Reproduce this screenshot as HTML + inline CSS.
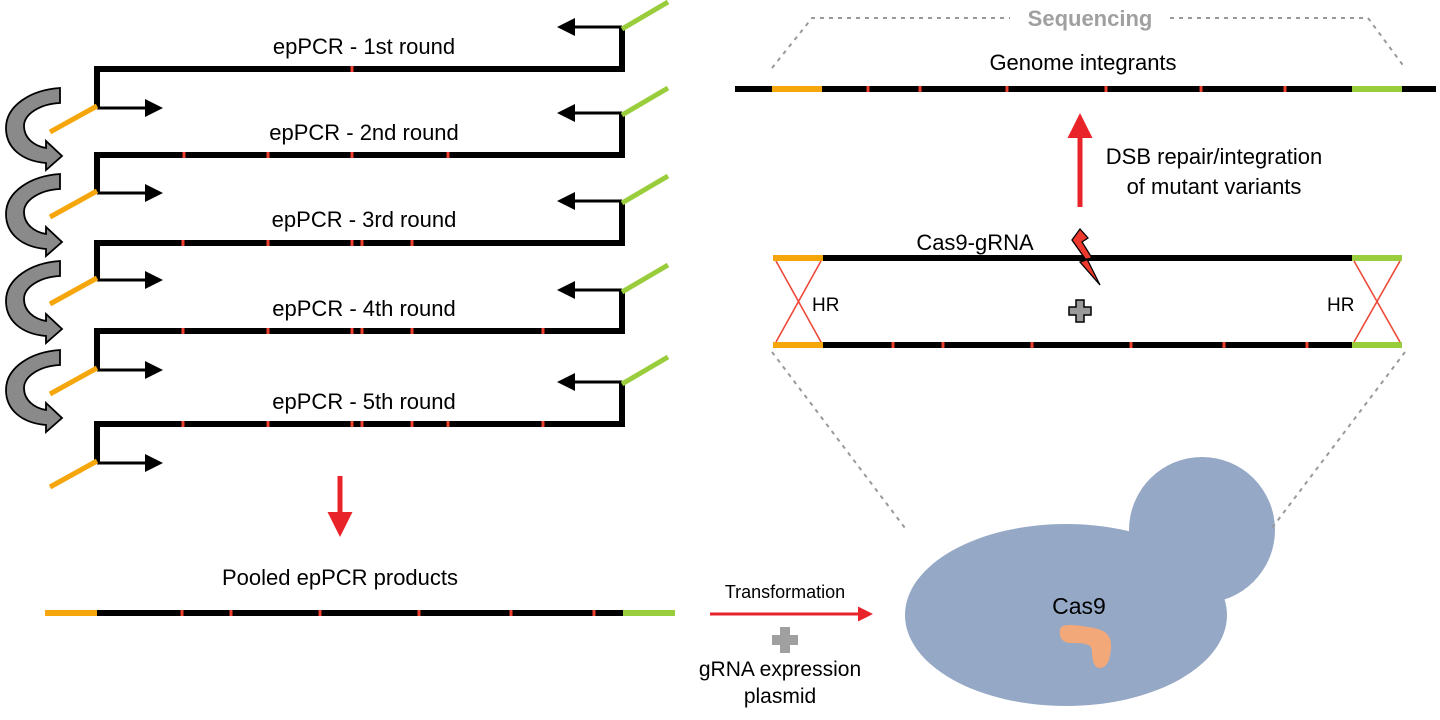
<!DOCTYPE html>
<html><head><meta charset="utf-8"><style>
html,body{margin:0;padding:0;background:#fff;}
svg{display:block;font-family:"Liberation Sans",Arial,sans-serif;}
</style></head><body>
<svg width="1440" height="720" viewBox="0 0 1440 720" xmlns="http://www.w3.org/2000/svg">
<defs>
<marker id="ah" markerWidth="6" markerHeight="6" refX="5" refY="3" orient="auto" markerUnits="strokeWidth"><path d="M0,0 L6,3 L0,6 z" fill="#000"/></marker>
<marker id="rh" markerWidth="5" markerHeight="5" refX="4" refY="2.5" orient="auto" markerUnits="strokeWidth"><path d="M0,0 L5,2.5 L0,5 z" fill="#e8232a"/></marker>
<path id="curve" d="M60,88 L60,103 C40,104 24,114 24,126 C24,138 34,146 46,148 L46,141 L62,156 L46,170 L46,163 C22,161 6,148 6,128 C6,106 30,90 60,88 Z" fill="#8a8a8a" stroke="#000" stroke-width="1.8"/>
</defs>

<g font-size="22" text-anchor="middle" fill="#000">
<text x="364" y="54">epPCR - 1st round</text>
<text x="364" y="140">epPCR - 2nd round</text>
<text x="364" y="227">epPCR - 3rd round</text>
<text x="364" y="316">epPCR - 4th round</text>
<text x="364" y="409">epPCR - 5th round</text>
</g>

<g fill="none">
<path d="M622,27 L622,69 L97,69 L97,108" stroke="#000" stroke-width="6"/>
<line x1="622" y1="27" x2="560" y2="27" stroke="#000" stroke-width="3" marker-end="url(#ah)"/>
<line x1="97" y1="108" x2="160" y2="108" stroke="#000" stroke-width="3" marker-end="url(#ah)"/>
<line x1="622" y1="29" x2="668" y2="2" stroke="#9acd3c" stroke-width="5"/>
<line x1="97" y1="106" x2="50" y2="132" stroke="#f5a60a" stroke-width="5"/>

<path d="M622,113 L622,155 L97,155 L97,193" stroke="#000" stroke-width="6"/>
<line x1="622" y1="113" x2="560" y2="113" stroke="#000" stroke-width="3" marker-end="url(#ah)"/>
<line x1="97" y1="193" x2="160" y2="193" stroke="#000" stroke-width="3" marker-end="url(#ah)"/>
<line x1="622" y1="115" x2="668" y2="88" stroke="#9acd3c" stroke-width="5"/>
<line x1="97" y1="191" x2="50" y2="217" stroke="#f5a60a" stroke-width="5"/>

<path d="M622,201 L622,243 L97,243 L97,280" stroke="#000" stroke-width="6"/>
<line x1="622" y1="201" x2="560" y2="201" stroke="#000" stroke-width="3" marker-end="url(#ah)"/>
<line x1="97" y1="280" x2="160" y2="280" stroke="#000" stroke-width="3" marker-end="url(#ah)"/>
<line x1="622" y1="203" x2="668" y2="176" stroke="#9acd3c" stroke-width="5"/>
<line x1="97" y1="278" x2="50" y2="304" stroke="#f5a60a" stroke-width="5"/>

<path d="M622,290 L622,331 L97,331 L97,370" stroke="#000" stroke-width="6"/>
<line x1="622" y1="290" x2="560" y2="290" stroke="#000" stroke-width="3" marker-end="url(#ah)"/>
<line x1="97" y1="370" x2="160" y2="370" stroke="#000" stroke-width="3" marker-end="url(#ah)"/>
<line x1="622" y1="292" x2="668" y2="265" stroke="#9acd3c" stroke-width="5"/>
<line x1="97" y1="368" x2="50" y2="394" stroke="#f5a60a" stroke-width="5"/>

<path d="M622,382 L622,424 L97,424 L97,463" stroke="#000" stroke-width="6"/>
<line x1="622" y1="382" x2="560" y2="382" stroke="#000" stroke-width="3" marker-end="url(#ah)"/>
<line x1="97" y1="463" x2="160" y2="463" stroke="#000" stroke-width="3" marker-end="url(#ah)"/>
<line x1="622" y1="384" x2="668" y2="357" stroke="#9acd3c" stroke-width="5"/>
<line x1="97" y1="461" x2="50" y2="487" stroke="#f5a60a" stroke-width="5"/>
</g>

<g stroke="#f04030" stroke-width="3">
<line x1="352" y1="66" x2="352" y2="72"/>
<line x1="184" y1="152" x2="184" y2="158"/><line x1="268" y1="152" x2="268" y2="158"/><line x1="352" y1="152" x2="352" y2="158"/><line x1="448" y1="152" x2="448" y2="158"/>
<line x1="183" y1="240" x2="183" y2="246"/><line x1="268" y1="240" x2="268" y2="246"/><line x1="352" y1="240" x2="352" y2="246"/><line x1="362" y1="240" x2="362" y2="246"/><line x1="412" y1="240" x2="412" y2="246"/>
<line x1="183" y1="328" x2="183" y2="334"/><line x1="268" y1="328" x2="268" y2="334"/><line x1="352" y1="328" x2="352" y2="334"/><line x1="362" y1="328" x2="362" y2="334"/><line x1="412" y1="328" x2="412" y2="334"/><line x1="543" y1="328" x2="543" y2="334"/>
<line x1="183" y1="421" x2="183" y2="427"/><line x1="268" y1="421" x2="268" y2="427"/><line x1="352" y1="421" x2="352" y2="427"/><line x1="362" y1="421" x2="362" y2="427"/><line x1="412" y1="421" x2="412" y2="427"/><line x1="448" y1="421" x2="448" y2="427"/><line x1="543" y1="421" x2="543" y2="427"/>
</g>

<use href="#curve"/>
<use href="#curve" transform="translate(0,86)"/>
<use href="#curve" transform="translate(0,173)"/>
<use href="#curve" transform="translate(0,262)"/>

<line x1="340" y1="476" x2="340" y2="532" stroke="#e8232a" stroke-width="5" marker-end="url(#rh)"/>
<text x="340" y="585" font-size="22" text-anchor="middle">Pooled epPCR products</text>
<line x1="45" y1="613" x2="97" y2="613" stroke="#f5a60a" stroke-width="6"/>
<line x1="97" y1="613" x2="623" y2="613" stroke="#000" stroke-width="6"/>
<line x1="623" y1="613" x2="675" y2="613" stroke="#9acd3c" stroke-width="6"/>
<g stroke="#f04030" stroke-width="3">
<line x1="182" y1="610" x2="182" y2="616"/><line x1="231" y1="610" x2="231" y2="616"/><line x1="320" y1="610" x2="320" y2="616"/><line x1="419" y1="610" x2="419" y2="616"/><line x1="511" y1="610" x2="511" y2="616"/><line x1="594" y1="610" x2="594" y2="616"/>
</g>

<text x="785" y="598" font-size="18" text-anchor="middle">Transformation</text>
<line x1="710" y1="614" x2="870" y2="614" stroke="#e8232a" stroke-width="3" marker-end="url(#rh)"/>
<path d="M780,627 h10 v8 h8 v10 h-8 v8 h-10 v-8 h-8 v-10 h8 z" fill="#a0a0a0"/>
<text x="780" y="676" font-size="21" text-anchor="middle">gRNA expression</text>
<text x="780" y="703" font-size="21" text-anchor="middle">plasmid</text>

<circle cx="1202" cy="530" r="73" fill="#95a8c6"/>
<ellipse cx="1066" cy="615" rx="161" ry="91" fill="#95a8c6"/>
<text x="1079" y="614" font-size="23" text-anchor="middle">Cas9</text>
<path d="M1060,630 C1060,624 1070,624 1088,627 C1104,629 1112,634 1111,648 C1110,662 1106,668 1100,668 C1094,668 1092,660 1092,652 C1092,645 1088,643 1072,643 C1062,643 1059,638 1060,630 Z" fill="#f2a878"/>

<g stroke="#999" stroke-width="2" stroke-dasharray="4,5" fill="none">
<line x1="772" y1="352" x2="905" y2="528"/>
<line x1="1405" y1="352" x2="1272" y2="528"/>
<path d="M772,68 L812,18 L1010,18"/>
<path d="M1170,18 L1368,18 L1405,68"/>
</g>
<text x="1090" y="26" font-size="22" font-weight="bold" fill="#a0a0a0" text-anchor="middle">Sequencing</text>

<text x="1083" y="70" font-size="22" text-anchor="middle">Genome integrants</text>
<line x1="735" y1="89" x2="772" y2="89" stroke="#000" stroke-width="6"/>
<line x1="772" y1="89" x2="822" y2="89" stroke="#f5a60a" stroke-width="6"/>
<line x1="822" y1="89" x2="1352" y2="89" stroke="#000" stroke-width="6"/>
<line x1="1352" y1="89" x2="1402" y2="89" stroke="#9acd3c" stroke-width="6"/>
<line x1="1402" y1="89" x2="1436" y2="89" stroke="#000" stroke-width="6"/>
<g stroke="#f04030" stroke-width="3">
<line x1="868" y1="86" x2="868" y2="92"/><line x1="920" y1="86" x2="920" y2="92"/><line x1="1007" y1="86" x2="1007" y2="92"/><line x1="1106" y1="86" x2="1106" y2="92"/><line x1="1201" y1="86" x2="1201" y2="92"/><line x1="1285" y1="86" x2="1285" y2="92"/>
</g>

<line x1="1080" y1="207" x2="1080" y2="118" stroke="#e8232a" stroke-width="5" marker-end="url(#rh)"/>
<text x="1214" y="164" font-size="22" text-anchor="middle">DSB repair/integration</text>
<text x="1214" y="194" font-size="22" text-anchor="middle">of mutant variants</text>

<line x1="773" y1="258" x2="823" y2="258" stroke="#f5a60a" stroke-width="6"/>
<line x1="823" y1="258" x2="1352" y2="258" stroke="#000" stroke-width="6"/>
<line x1="1352" y1="258" x2="1402" y2="258" stroke="#9acd3c" stroke-width="6"/>
<line x1="773" y1="345" x2="823" y2="345" stroke="#f5a60a" stroke-width="6"/>
<line x1="823" y1="345" x2="1352" y2="345" stroke="#000" stroke-width="6"/>
<line x1="1352" y1="345" x2="1402" y2="345" stroke="#9acd3c" stroke-width="6"/>
<g stroke="#f04030" stroke-width="3">
<line x1="893" y1="342" x2="893" y2="348"/><line x1="943" y1="342" x2="943" y2="348"/><line x1="1032" y1="342" x2="1032" y2="348"/><line x1="1131" y1="342" x2="1131" y2="348"/><line x1="1224" y1="342" x2="1224" y2="348"/><line x1="1307" y1="342" x2="1307" y2="348"/>
</g>
<g stroke="#ee4a3a" stroke-width="1.6">
<line x1="776" y1="261" x2="821" y2="342"/><line x1="821" y1="261" x2="776" y2="342"/>
<line x1="1354" y1="261" x2="1400" y2="342"/><line x1="1400" y1="261" x2="1354" y2="342"/>
</g>
<text x="812" y="311" font-size="19">HR</text>
<text x="1327" y="311" font-size="19">HR</text>
<path d="M1076,300 h8 v7 h7 v8 h-7 v7 h-8 v-7 h-7 v-8 h7 z" fill="#9a9a9a" stroke="#000" stroke-width="1.5"/>
<text x="975" y="250" font-size="22" text-anchor="middle">Cas9-gRNA</text>
<path d="M1072,240 L1080,229 L1088,238 L1082,242 L1092,258 L1087,259 L1100,285 L1080,262 L1086,260 Z" fill="#ee3a2e" stroke="#000" stroke-width="1.3"/>
</svg>
</body></html>
